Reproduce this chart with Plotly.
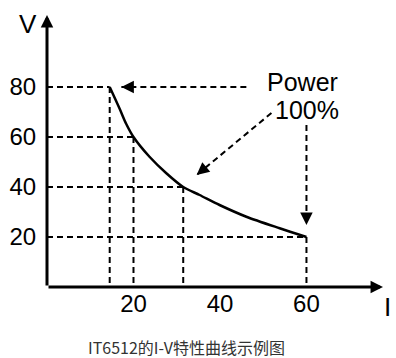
import plotly.graph_objects as go

# ---- data ----
curve_i = [14.5, 16.8, 18.3, 20.0, 23.7, 27.6, 31.5, 35.3, 39.9, 46.1, 53.8, 60.0]
curve_v = [80.0, 71.3, 65.3, 60.0, 52.1, 45.5, 40.0, 36.8, 32.8, 28.1, 23.5, 20.0]
corner_i = [14.5, 20.0, 31.5, 60.0]
corner_v = [80, 60, 40, 20]
x_ticks = [20, 40, 60]
y_ticks = [20, 40, 60, 80]
arrow_tail_i = [46.1, 51.9, 60.0]
arrow_tail_v = [80.0, 69.6, 64.8]
arrow_tip_i = [17.2, 34.6, 60.0]
arrow_tip_v = [80.0, 44.8, 24.8]
label_power = "Power"
label_pct = "100%"
caption = "IT6512的I-V特性曲线示例图"

X_MAX = 77.7
Y_MAX = 108.8
PX_X = 336 / X_MAX
PX_Y = 272 / Y_MAX
FONT = "Liberation Sans, Arial, sans-serif"

fig = go.Figure()

# dashed guide lines
gx, gy = [], []
for i, v in zip(corner_i, corner_v):
    gx += [0, i, None, i, i, None]
    gy += [v, v, None, v, 0, None]
fig.add_trace(go.Scatter(x=gx, y=gy, mode="lines",
                         line=dict(color="black", width=2, dash="6px,4px"),
                         hoverinfo="skip", showlegend=False))

# arrow dashed stems
ax_, ay_ = [], []
for ti, tv, hi, hv in zip(arrow_tail_i, arrow_tail_v, arrow_tip_i, arrow_tip_v):
    ax_ += [ti, hi, None]
    ay_ += [tv, hv, None]
fig.add_trace(go.Scatter(x=ax_, y=ay_, mode="lines",
                         line=dict(color="black", width=2, dash="6px,4px"),
                         hoverinfo="skip", showlegend=False))

# power curve
fig.add_trace(go.Scatter(x=curve_i, y=curve_v, mode="lines",
                         line=dict(color="black", width=2.5, shape="spline", smoothing=0.8),
                         hoverinfo="skip", showlegend=False))

ann = []
# axis arrows
ann.append(dict(x=0, y=Y_MAX, ax=0, ay=0, xref="x", yref="y", axref="x", ayref="y",
                showarrow=True, arrowhead=2, arrowwidth=3, arrowsize=0.83,
                arrowcolor="black", text=""))
ann.append(dict(x=X_MAX, y=0, ax=0, ay=0, xref="x", yref="y", axref="x", ayref="y",
                showarrow=True, arrowhead=2, arrowwidth=3, arrowsize=0.83,
                arrowcolor="black", text=""))
# arrowheads for dashed arrows
for ti, tv, hi, hv in zip(arrow_tail_i, arrow_tail_v, arrow_tip_i, arrow_tip_v):
    dxp = (hi - ti) * PX_X
    dyp = -(hv - tv) * PX_Y
    L = (dxp ** 2 + dyp ** 2) ** 0.5
    ann.append(dict(x=hi, y=hv, xref="x", yref="y", ax=-dxp / L * 8, ay=-dyp / L * 8,
                    showarrow=True, arrowhead=2, arrowwidth=2, arrowsize=1.25,
                    arrowcolor="black", text=""))

ann.append(dict(x=59.1, y=82, xref="x", yref="y", text=label_power, showarrow=False,
                font=dict(family=FONT, size=25, color="black")))
ann.append(dict(x=60.2, y=70.8, xref="x", yref="y", text=label_pct, showarrow=False,
                font=dict(family=FONT, size=25, color="black")))
ann.append(dict(x=-0.058, y=0.967, xref="paper", yref="paper", text="V", showarrow=False,
                xanchor="center", yanchor="middle",
                font=dict(family=FONT, size=26, color="black")))
ann.append(dict(x=1.012, y=-0.0735, xref="paper", yref="paper", text="I", showarrow=False,
                xanchor="center", yanchor="middle",
                font=dict(family=FONT, size=26, color="black")))
ann.append(dict(x=0.414, y=-0.22, xref="paper", yref="paper", text=caption, showarrow=False,
                xanchor="center", yanchor="middle",
                font=dict(family="Noto Sans CJK SC", size=16, color="#333333")))

fig.update_layout(
    width=396, height=358,
    margin=dict(l=47, r=13, t=15, b=71),
    plot_bgcolor="white", paper_bgcolor="white",
    annotations=ann,
    xaxis=dict(range=[0, X_MAX], showgrid=False, zeroline=False, showline=False,
               automargin=False, fixedrange=True,
               tickvals=x_ticks, ticks="",
               tickfont=dict(family=FONT, size=24, color="black")),
    yaxis=dict(range=[0, Y_MAX], showgrid=False, zeroline=False, showline=False,
               automargin=False, fixedrange=True,
               tickvals=y_ticks, ticks="outside", ticklen=5, tickcolor="rgba(0,0,0,0)",
               tickfont=dict(family=FONT, size=24, color="black")),
)

fig.write_html("out.html", config={"displayModeBar": False},
               post_script="document.body.style.margin='0';document.body.style.overflow='hidden';")
